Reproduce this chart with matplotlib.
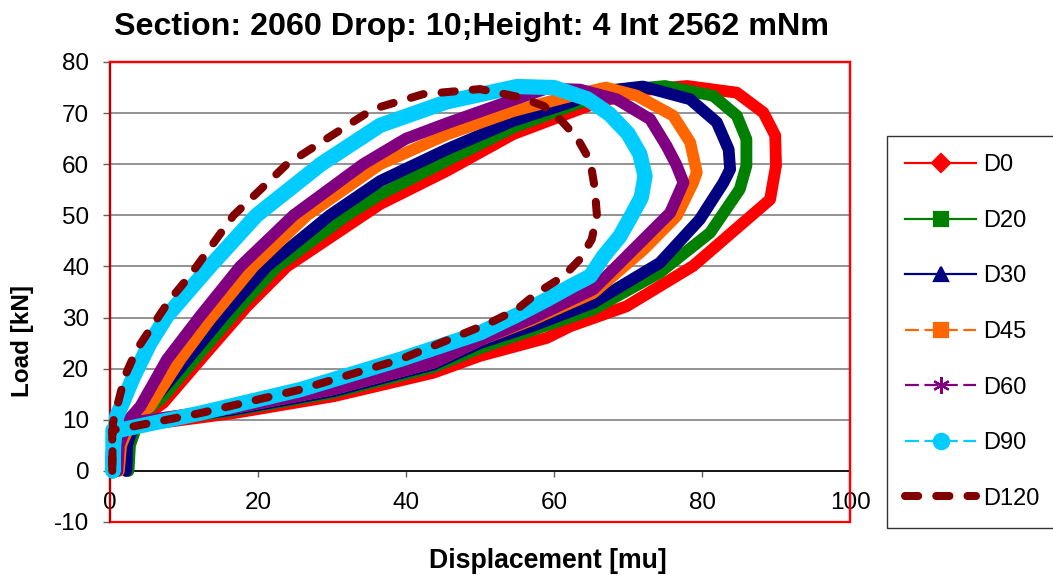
import matplotlib
matplotlib.use("Agg")
import matplotlib.pyplot as plt
from matplotlib.lines import Line2D
from matplotlib.patches import Rectangle

plt.rcParams['font.family'] = ['Liberation Sans', 'DejaVu Sans']
plt.rcParams['lines.scale_dashes'] = False

# ---------------- data ----------------
series_names = ["D0", "D20", "D30", "D45", "D60", "D90", "D120"]

d0_x = [0.5, 0.6, 3.1, 16.7, 30.2, 43.7, 50.0, 59.0, 62.2, 69.8, 78.8, 85.6, 89.2, 90.0, 89.9, 88.3, 84.7, 78.0, 72.0, 66.2, 63.5, 54.5, 45.5, 36.5, 23.9, 18.5, 12.6, 7.2, 4.0, 2.5, 2.2]
d0_y = [0.0, 8.0, 8.7, 11.3, 14.6, 19.2, 22.5, 26.0, 28.3, 32.2, 40.1, 48.6, 53.1, 59.7, 65.6, 70.1, 74.0, 75.3, 74.5, 72.2, 70.8, 65.9, 58.7, 52.2, 40.0, 32.2, 22.4, 13.3, 10.0, 5.0, 0.0]

d20_x = [0.5, 0.6, 3.0, 16.7, 30.2, 43.7, 50.0, 57.0, 65.3, 74.3, 81.1, 85.1, 86.0, 86.0, 84.7, 81.5, 75.0, 69.0, 63.0, 54.5, 45.5, 36.5, 32.0, 22.6, 17.6, 12.2, 7.2, 4.0, 2.7, 2.5]
d20_y = [0.0, 8.3, 9.2, 11.8, 15.3, 20.3, 24.0, 27.5, 31.6, 38.8, 46.6, 55.1, 59.7, 64.9, 69.5, 73.4, 75.3, 74.5, 71.8, 67.2, 60.7, 54.1, 50.0, 40.0, 32.2, 23.1, 14.6, 10.5, 5.0, 0.0]

d30_x = [0.5, 0.6, 3.0, 16.7, 30.2, 43.7, 50.0, 57.0, 65.3, 74.3, 79.7, 82.9, 83.8, 83.6, 82.0, 78.4, 72.0, 66.0, 62.0, 54.5, 45.5, 36.5, 29.7, 21.2, 15.3, 10.8, 6.3, 3.5, 2.3, 2.2]
d30_y = [0.0, 8.3, 9.3, 12.0, 15.6, 20.8, 25.0, 28.3, 32.9, 40.7, 49.2, 56.4, 59.0, 62.9, 68.2, 72.7, 75.2, 74.2, 72.0, 68.5, 62.9, 56.7, 50.0, 40.0, 30.3, 22.4, 14.6, 10.5, 5.0, 0.0]

d45_x = [0.4, 0.5, 3.0, 16.7, 30.2, 43.7, 50.0, 57.0, 65.3, 72.1, 76.6, 78.8, 79.3, 78.4, 76.1, 71.2, 67.0, 63.5, 54.5, 45.5, 36.5, 26.6, 19.4, 13.5, 9.5, 5.4, 3.0, 1.5, 1.2]
d45_y = [0.0, 8.5, 9.5, 12.3, 16.0, 21.2, 25.6, 29.5, 34.8, 43.3, 49.9, 56.4, 58.4, 64.3, 69.5, 73.4, 75.0, 73.8, 70.4, 65.8, 60.0, 50.0, 40.0, 29.6, 21.8, 12.6, 10.0, 5.0, 0.0]

d60_x = [0.4, 0.5, 3.0, 16.7, 30.2, 43.7, 50.0, 57.0, 65.3, 71.2, 75.7, 77.5, 76.5, 75.2, 73.0, 68.5, 63.5, 59.0, 54.5, 45.5, 40.0, 34.2, 24.8, 17.6, 12.2, 7.7, 4.1, 2.5, 1.2, 1.0]
d60_y = [0.0, 8.5, 9.5, 12.3, 16.0, 21.2, 25.6, 29.8, 35.5, 44.0, 50.5, 56.4, 60.0, 63.6, 68.8, 72.7, 74.6, 74.8, 72.6, 68.0, 65.0, 60.0, 50.0, 40.0, 30.3, 21.8, 12.6, 10.0, 5.0, 0.0]

d90_x = [0.4, 0.4, 1.4, 12.2, 25.7, 39.2, 50.0, 55.0, 59.0, 62.5, 64.9, 66.7, 68.9, 70.3, 71.8, 72.3, 71.6, 70.0, 67.5, 64.5, 60.0, 55.0, 45.5, 36.5, 28.5, 19.8, 13.5, 10.8, 7.7, 5.4, 3.2, 0.9, 0.5, 0.4]
d90_y = [0.0, 8.0, 8.0, 11.3, 15.9, 21.8, 27.0, 30.5, 33.5, 36.3, 38.1, 42.0, 45.9, 49.5, 53.5, 57.7, 62.0, 66.0, 69.8, 72.8, 75.0, 75.2, 72.2, 67.6, 60.0, 50.0, 40.0, 35.5, 30.3, 25.0, 18.5, 10.6, 5.0, 0.0]

d120_x = [0.3, 0.3, 1.4, 12.2, 25.7, 39.2, 51.4, 55.0, 57.7, 61.3, 63.5, 65.1, 65.8, 65.5, 64.9, 63.1, 61.0, 58.6, 55.4, 50.0, 42.3, 36.5, 34.7, 23.9, 16.7, 11.7, 10.4, 8.1, 6.3, 3.6, 2.0, 0.4, 0.3]
d120_y = [0.0, 8.0, 8.2, 11.3, 15.9, 21.8, 29.0, 31.6, 34.8, 38.1, 41.4, 45.3, 50.0, 55.4, 60.6, 65.2, 68.5, 71.4, 73.1, 74.7, 73.7, 71.2, 70.0, 60.0, 50.0, 40.0, 37.5, 33.5, 29.6, 23.7, 18.5, 9.4, 0.0]

x_ticks = [0, 20, 40, 60, 80, 100]
y_ticks = [-10, 0, 10, 20, 30, 40, 50, 60, 70, 80]

title = "Section: 2060 Drop: 10;Height: 4 Int 2562 mNm"
x_label = "Displacement [mu]"
y_label = "Load [kN]"

# ---------------- styles ----------------
colors = ["#FF0000", "#008000", "#000080", "#FF6600", "#800080", "#00CCFF", "#800000"]
markers = ["D", "s", "^", "s", (6, 2, 0), "o", None]
marker_sizes = [9, 10, 10, 10, 12, 11, 0]
legend_ls = ["-", "-", "-", (0, (10, 4)), (0, (10, 4)), (0, (10, 4)), (0, (9.5, 13))]
band_widths = [8.5, 8.5, 8.5, 8.5, 8.5, 11.0, 5.8]

xs = [d0_x, d20_x, d30_x, d45_x, d60_x, d90_x, d120_x]
ys = [d0_y, d20_y, d30_y, d45_y, d60_y, d90_y, d120_y]

W, H = 1053, 575
fig = plt.figure(figsize=(W / 100, H / 100), dpi=100)
ax = fig.add_axes([110 / W, 1 - 522 / H, 740 / W, 460 / H])
ax.set_xlim(0, 100)
ax.set_ylim(-10, 80)

for i, name in enumerate(series_names):
    if name == "D120":
        ax.plot(xs[i], ys[i], color=colors[i], lw=band_widths[i],
                linestyle=(0, (9.5, 13)), dash_capstyle='round',
                solid_joinstyle='round', clip_on=False, zorder=3 + i)
    else:
        ax.plot(xs[i], ys[i], color=colors[i], lw=band_widths[i],
                solid_capstyle='round', solid_joinstyle='round',
                clip_on=False, zorder=3 + i)

# grid and axes
ax.set_yticks(y_ticks)
ax.set_xticks(x_ticks)
ax.yaxis.grid(True, color="#808080", lw=1.2, zorder=1)
ax.set_axisbelow(True)
for s in ["top", "right", "left"]:
    ax.spines[s].set_color("red")
    ax.spines[s].set_linewidth(1.6)
ax.spines["left"].set_color("#B00000")
ax.spines["bottom"].set_position(("data", 0))
ax.spines["bottom"].set_color("black")
ax.spines["bottom"].set_linewidth(1.2)
ax.spines["bottom"].set_zorder(2)
ax.add_patch(Rectangle((0, 0), 1, 1, transform=ax.transAxes, fill=False,
                       ec="red", lw=1.6, clip_on=False, zorder=1.5))

ax.tick_params(axis="y", direction="out", length=5, width=1.0, color="#606060",
               labelsize=17.5, pad=10)
ax.tick_params(axis="x", direction="out", length=4.5, width=1.0, color="#606060",
               labelsize=17.5, pad=10.5)
ax.set_xticklabels([str(v) for v in x_ticks])
ax.set_yticklabels([str(v) for v in y_ticks])

# texts
fig.text(472 / W, 1 - 35 / H, title, ha="center", va="baseline",
         fontsize=23.2, fontweight="bold")
fig.text(22 / W, 1 - 341 / H, y_label, rotation=90, ha="center", va="center",
         fontsize=17.5, fontweight="bold")
fig.text(548 / W, 1 - 561 / H, x_label, ha="center", va="center",
         fontsize=19.2, fontweight="bold")

# legend
handles = []
for i, name in enumerate(series_names):
    if name == "D120":
        h = Line2D([], [], color=colors[i], lw=band_widths[i], linestyle=legend_ls[i],
                   dash_capstyle='round')
    else:
        h = Line2D([], [], color=colors[i], lw=1.6, linestyle=legend_ls[i],
                   marker=markers[i], markersize=marker_sizes[i],
                   markerfacecolor=colors[i], markeredgecolor=colors[i],
                   markeredgewidth=1.6)
    handles.append(h)

leg = ax.legend(handles, series_names, loc="upper left",
                bbox_to_anchor=(887 / W, 1 - 136 / H), bbox_transform=fig.transFigure,
                fontsize=17, frameon=True, fancybox=False, edgecolor="black",
                borderpad=0.78, labelspacing=1.42, handlelength=3.0,
                handletextpad=0.3, borderaxespad=0, markerscale=1.0)
leg.get_frame().set_linewidth(1.0)

fig.savefig("out.png", dpi=100)
